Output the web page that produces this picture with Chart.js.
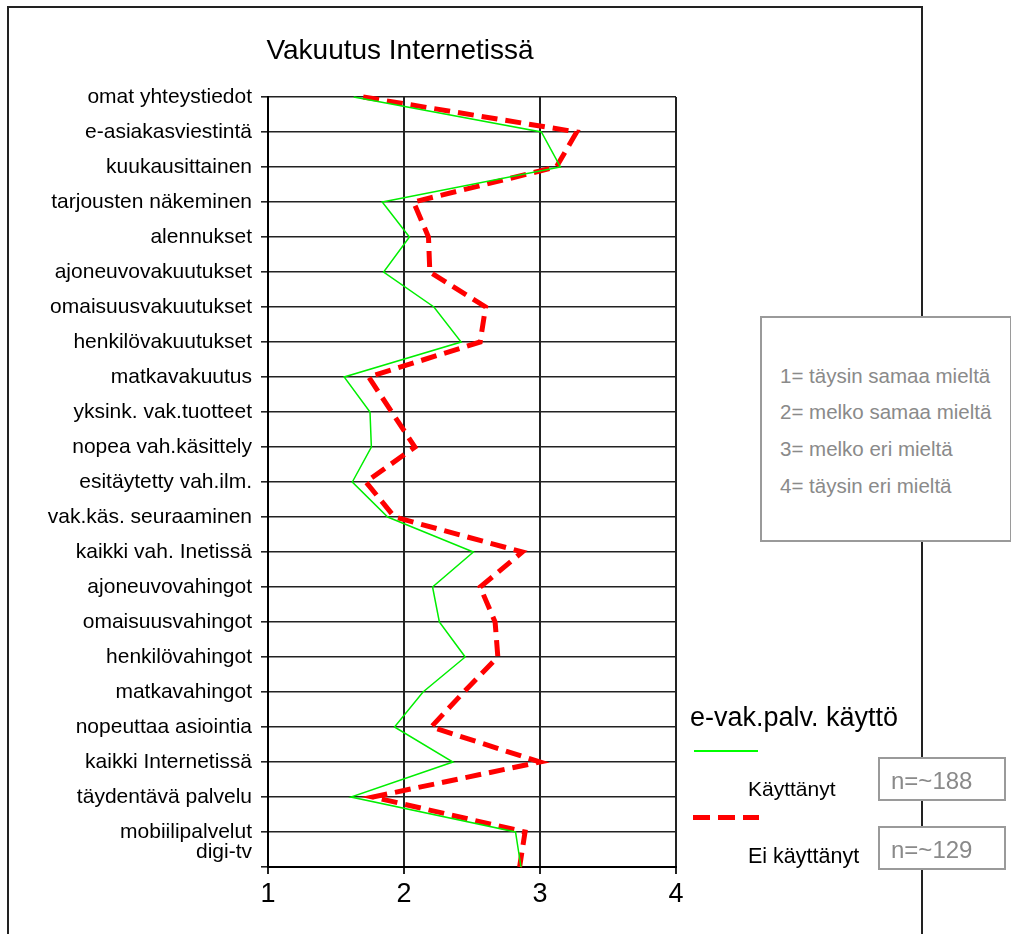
<!DOCTYPE html>
<html>
<head>
<meta charset="utf-8">
<script src="https://cdn.jsdelivr.net/npm/chart.js@4.4.1/dist/chart.umd.min.js"></script>
<style>
  html, body { margin: 0; padding: 0; background: #fff; }
  body { width: 1011px; height: 934px; position: relative; overflow: hidden; font-family: "Liberation Sans", Arial, sans-serif; }
  #c { position: absolute; left: 0; top: 0; }
  .abs { position: absolute; white-space: nowrap; }
  .frame { position: absolute; background: #222; }
  .box { position: absolute; background: #fff; border: 2px solid #9a9a9a; box-sizing: border-box; z-index: 3; }
</style>
</head>
<body>
<canvas id="c" width="1011" height="934"></canvas>

<div class="frame" style="left:7px; top:6px; width:916px; height:2px;"></div>
<div class="frame" style="left:7px; top:6px; width:2px; height:928px;"></div>
<div class="frame" style="left:921px; top:6px; width:2px; height:928px;"></div>

<div class="abs" id="title" style="left:250px; width:300px; top:36px; font-size:28px; line-height:28px; text-align:center; color:#000;"></div>

<div class="box" style="left:760px; top:316px; width:252px; height:226px;"></div>

<div class="abs" id="legTitle" style="left:690px; top:702px; font-size:27px; line-height:30px; color:#000; z-index:4;"></div>
<div class="abs" style="left:694px; top:750px; width:64px; height:1.5px; background:#00ff00; z-index:4;"></div>
<div class="abs" id="leg1" style="left:748px; top:777px; font-size:21px; line-height:24px; color:#000; z-index:4;"></div>
<div class="abs" style="left:693px; top:815px; width:66px; height:5px; z-index:4; background:repeating-linear-gradient(to right, #ff0000 0 17px, transparent 17px 25px);"></div>
<div class="abs" id="leg2" style="left:748px; top:844px; font-size:21.5px; line-height:24px; color:#000; z-index:4;"></div>

<div class="box" id="n1box" style="left:878px; top:757px; width:128px; height:44px;"></div>
<div class="box" id="n2box" style="left:878px; top:826px; width:128px; height:44px;"></div>
<div class="abs" id="n1" style="left:891px; top:767px; font-size:24px; line-height:28px; color:#8a8a8a; z-index:4;"></div>
<div class="abs" id="n2" style="left:891px; top:836px; font-size:24px; line-height:28px; color:#8a8a8a; z-index:4;"></div>

<script>
// ---- data ----
const chartTitle = "Vakuutus Internetissä";
const categories = [
  "omat yhteystiedot", "e-asiakasviestintä", "kuukausittainen", "tarjousten näkeminen",
  "alennukset", "ajoneuvovakuutukset", "omaisuusvakuutukset", "henkilövakuutukset",
  "matkavakuutus", "yksink. vak.tuotteet", "nopea vah.käsittely", "esitäytetty vah.ilm.",
  "vak.käs. seuraaminen", "kaikki vah. Inetissä", "ajoneuvovahingot", "omaisuusvahingot",
  "henkilövahingot", "matkavahingot", "nopeuttaa asiointia", "kaikki Internetissä",
  "täydentävä palvelu", "mobiilipalvelut", "digi-tv"
];
const kayttanyt = [
  1.63, 3.01, 3.15, 1.84, 2.04, 1.85, 2.22, 2.42, 1.56, 1.75, 1.76, 1.62,
  1.88, 2.51, 2.21, 2.26, 2.45, 2.14, 1.93, 2.36, 1.61, 2.82, 2.86
];
const eiKayttanyt = [
  1.70, 3.27, 3.12, 2.07, 2.18, 2.19, 2.60, 2.56, 1.74, 1.91, 2.08, 1.72,
  1.93, 2.87, 2.56, 2.67, 2.69, 2.44, 2.20, 3.00, 1.77, 2.89, 2.85
];
const seriesNames = ["Käyttänyt", "Ei käyttänyt"];
const legendTitle = "e-vak.palv. käyttö";
const nCounts = ["n=~188", "n=~129"];
const scaleNotes = [
  "1= täysin samaa mieltä",
  "2= melko samaa mieltä",
  "3= melko eri mieltä",
  "4= täysin eri mieltä"
];
const xTickValues = [1, 2, 3, 4];

// ---- text overlays ----
document.getElementById('title').textContent = chartTitle;
document.getElementById('legTitle').textContent = legendTitle;
document.getElementById('leg1').textContent = seriesNames[0];
document.getElementById('leg2').textContent = seriesNames[1];
document.getElementById('n1').textContent = nCounts[0];
document.getElementById('n2').textContent = nCounts[1];
const noteCenters = [376, 412, 449, 486];
scaleNotes.forEach((t, i) => {
  const d = document.createElement('div');
  d.className = 'abs';
  d.style.left = '780px';
  d.style.top = (noteCenters[i] - 12) + 'px';
  d.style.lineHeight = '24px';
  d.style.fontSize = '20.5px';
  d.style.color = '#8a8a8a';
  d.style.zIndex = 4;
  d.textContent = t;
  document.body.appendChild(d);
});

// ---- chart ----
const yLabels = categories.map((c, i) => i === categories.length - 1 ? [c, ''] : c);

new Chart(document.getElementById('c'), {
  type: 'line',
  data: {
    labels: yLabels,
    datasets: [
      {
        label: seriesNames[0],
        data: kayttanyt,
        borderColor: '#00ee00',
        borderWidth: 1.5,
        pointRadius: 0,
        tension: 0,
        fill: false,
        clip: false
      },
      {
        label: seriesNames[1],
        data: eiKayttanyt,
        borderColor: '#ff0000',
        borderWidth: 5,
        borderDash: [16, 8],
        pointRadius: 0,
        tension: 0,
        fill: false,
        clip: false
      }
    ]
  },
  options: {
    indexAxis: 'y',
    responsive: false,
    animation: false,
    devicePixelRatio: 1,
    layout: { padding: { left: 0, top: 97, right: 335, bottom: 27 } },
    plugins: {
      legend: { display: false },
      title: { display: false },
      tooltip: { enabled: false }
    },
    scales: {
      x: {
        type: 'linear',
        position: 'bottom',
        min: 1,
        max: 4,
        afterBuildTicks: (s) => { s.ticks = xTickValues.map(v => ({ value: v })); },
        afterFit: (s) => { s.height = 40; },
        ticks: {
          color: '#000',
          font: { family: 'Liberation Sans, Arial, sans-serif', size: 27 },
          padding: 4
        },
        grid: { color: '#222', lineWidth: 2, tickLength: 7, drawTicks: true },
        border: { display: true, color: '#000', width: 2 }
      },
      y: {
        type: 'category',
        offset: false,
        afterFit: (s) => { s.width = 268; },
        ticks: {
          color: '#000',
          autoSkip: false,
          padding: 9,
          font: { family: 'Liberation Sans, Arial, sans-serif', size: 21, lineHeight: 1.45 }
        },
        grid: { color: '#222', lineWidth: 1.6, tickLength: 7, drawTicks: true },
        border: { display: true, color: '#000', width: 2 }
      }
    }
  }
});
</script>
</body>
</html>
